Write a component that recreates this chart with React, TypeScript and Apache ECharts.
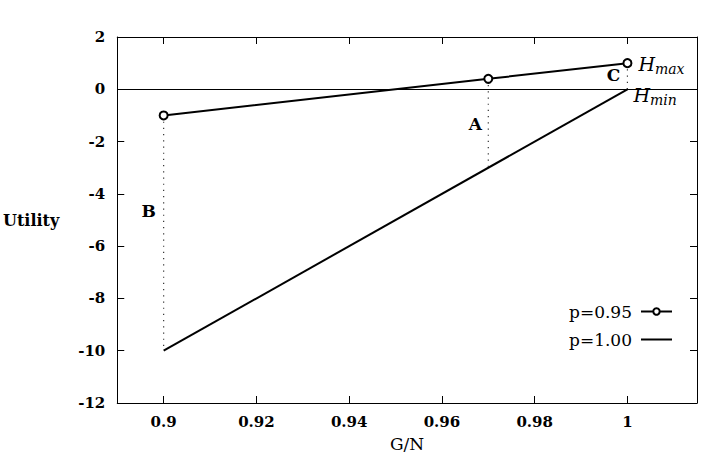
import React, { useEffect, useRef } from "react";
import * as echarts from "echarts";

const xTicks = [0.9, 0.92, 0.94, 0.96, 0.98, 1.0];
const yTicks = [-12, -10, -8, -6, -4, -2, 0, 2];

const gnP095 = [0.9, 0.97, 1.0];
const utilP095 = [-1, 0.4, 1.0];

const gnP100 = [0.9, 1.0];
const utilP100 = [-10, 0];

// vertical dotted drops: [x, yTop, yBottom]
const drops = [
  [0.97, 0.4, -3],
  [0.9, -1, -10],
  [1.0, 1.0, 0],
];

// annotation letters: [x, y, text]
const letters: [number, number, string][] = [
  [0.9672, -1.33, "A"],
  [0.8968, -4.65, "B"],
  [0.997, 0.55, "C"],
];

const FONT = "DejaVu Serif";

export default function App() {
  const ref = useRef<HTMLDivElement>(null);
  useEffect(() => {
    const chart = echarts.init(ref.current!, null, { renderer: "svg" });
    const hLabel = (sub: string, offsetY: number) => ({
      show: true,
      position: "right",
      distance: 6,
      offset: [0, offsetY],
      formatter: `{h|H}{s|${sub}}`,
      textBorderWidth: 0,
      rich: {
        h: { fontFamily: FONT, fontStyle: "italic", fontSize: 19, color: "#000" },
        s: {
          fontFamily: FONT,
          fontStyle: "italic",
          fontSize: 14,
          color: "#000",
          padding: [9, 0, 0, 0],
        },
      },
    });
    const axisCommon = {
      type: "value" as const,
      axisLine: { show: true, onZero: false, lineStyle: { color: "#000", width: 1 } },
      splitLine: { show: false },
    };
    chart.setOption({
      animation: false,
      backgroundColor: "#fff",
      grid: { left: 117, right: 18, top: 37, bottom: 55 },
      legend: {
        data: [
          { name: "p=0.95" },
          { name: "p=1.00", itemStyle: { opacity: 0 } },
        ],
        orient: "vertical",
        align: "right",
        right: 37,
        top: 298,
        itemWidth: 31,
        itemHeight: 8,
        itemGap: 11,
        textStyle: { fontFamily: FONT, fontSize: 17, color: "#000", padding: [0, 4, 0, 0] },
      },
      xAxis: [
        {
          ...axisCommon,
          position: "bottom",
          min: 0.89,
          max: 1.015,
          name: "G/N",
          nameLocation: "middle",
          nameGap: 32,
          nameTextStyle: { fontFamily: FONT, fontSize: 17, color: "#000" },
          axisTick: { show: true, inside: true, length: 7, customValues: xTicks, lineStyle: { color: "#000" } },
          axisLabel: {
            customValues: xTicks,
            formatter: (v: number) => String(Number(v.toFixed(2))),
            fontFamily: FONT,
            fontWeight: "bold",
            fontSize: 15,
            color: "#000",
            margin: 11,
          },
        },
        {
          ...axisCommon,
          position: "top",
          min: 0.89,
          max: 1.015,
          axisTick: { show: true, inside: true, length: 7, customValues: xTicks, lineStyle: { color: "#000" } },
          axisLabel: { show: false, customValues: xTicks },
        },
      ],
      yAxis: [
        {
          ...axisCommon,
          position: "left",
          min: -12,
          max: 2,
          interval: 2,
          name: "Utility",
          nameLocation: "middle",
          nameRotate: 0,
          nameGap: 58,
          nameTextStyle: { fontFamily: FONT, fontSize: 16, fontWeight: "bold", color: "#000", align: "right" },
          axisTick: { show: true, inside: true, length: 7, customValues: yTicks, lineStyle: { color: "#000" } },
          axisLabel: {
            customValues: yTicks,
            fontFamily: FONT,
            fontWeight: "bold",
            fontSize: 15,
            color: "#000",
            margin: 12,
          },
        },
        {
          ...axisCommon,
          position: "right",
          min: -12,
          max: 2,
          interval: 2,
          axisTick: { show: true, inside: true, length: 7, customValues: yTicks, lineStyle: { color: "#000" } },
          axisLabel: { show: false },
        },
      ],
      series: [
        {
          name: "p=0.95",
          type: "line",
          data: gnP095.map((x, i) =>
            i === gnP095.length - 1
              ? { value: [x, utilP095[i]], label: hLabel("max", 1) }
              : { value: [x, utilP095[i]] }
          ),
          symbol: "emptyCircle",
          symbolSize: 8,
          showSymbol: true,
          lineStyle: { color: "#000", width: 2 },
          itemStyle: { color: "#000", borderWidth: 1.5 },
          z: 5,
        },
        {
          name: "p=1.00",
          type: "line",
          data: gnP100.map((x, i) =>
            i === gnP100.length - 1
              ? { value: [x, utilP100[i]], label: hLabel("min", 6) }
              : { value: [x, utilP100[i]] }
          ),
          symbol: "circle",
          symbolSize: 0,
          showSymbol: true,
          lineStyle: { color: "#000", width: 2 },
          itemStyle: { color: "#000" },
          markLine: {
            silent: true,
            symbol: "none",
            label: { show: false },
            lineStyle: { color: "#000", width: 1, type: "solid" },
            data: [{ yAxis: 0 }],
          },
          z: 4,
        },
        ...drops.map((d, i) => ({
          name: "drop" + i,
          type: "line",
          data: [
            [d[0], d[1]],
            [d[0], d[2]],
          ],
          symbol: "none",
          lineStyle: { color: "#333", width: 1.2, type: [1.2, 5] },
          z: 3,
        })),
        {
          name: "letters",
          type: "scatter",
          data: letters.map((l) => ({ value: [l[0], l[1]], name: l[2] })),
          symbolSize: 0,
          itemStyle: { opacity: 1, color: "#000" },
          label: {
            show: true,
            position: "inside",
            formatter: (p: any) => p.name,
            fontFamily: FONT,
            fontWeight: "bold",
            fontSize: 17,
            color: "#000",
            textBorderWidth: 0,
          },
          z: 6,
        },
      ],
    });
    return () => chart.dispose();
  }, []);
  return <div ref={ref} style={{ width: 715, height: 458, position: "absolute", left: 0, top: 0 }} />;
}
